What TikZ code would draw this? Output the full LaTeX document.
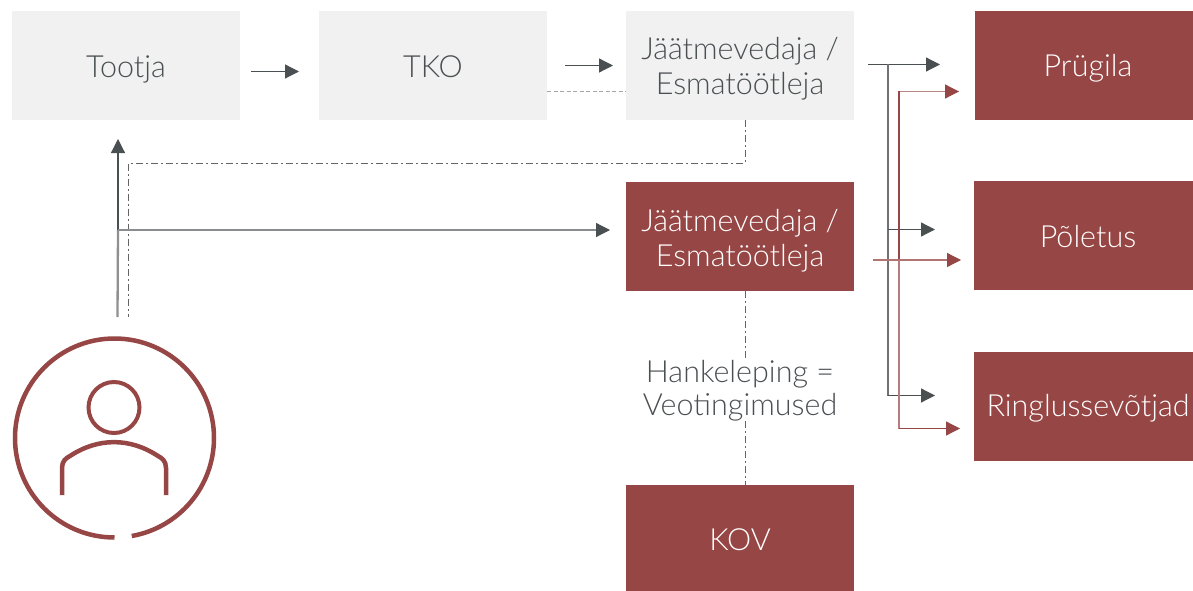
\documentclass[tikz,border=0pt]{standalone}
\usepackage{fontspec}
\setmainfont{Lato}[UprightFont=* Light]
\usetikzlibrary{arrows.meta,calc}
\definecolor{brick}{HTML}{964644}
\definecolor{pale}{HTML}{F1F1F1}
\definecolor{ink}{HTML}{4A4F52}
\definecolor{lgrey}{HTML}{8E9091}
\newcommand{\lowered}[2]{\raisebox{-#1}[\height][\depth]{#2}}
\newcommand{\twolines}[2]{\begin{tabular}{@{}c@{}}#1\\#2\end{tabular}}
\tikzset{
  x=1pt,y=-1pt,
  box/.style={minimum width=228pt,minimum height=109pt,inner sep=0pt,align=center,font=\fontsize{30.5}{35}\selectfont},
  greybox/.style={box,fill=pale,text=ink},
  redbox/.style={box,fill=brick,text=white},
  gtip/.style={-{Triangle[length=14pt,width=14pt,color=ink]}},
  rtip/.style={-{Triangle[length=14pt,width=14pt,color=brick]}},
  garrow/.style={draw=ink,line width=1.2pt,gtip},
  rarrow/.style={draw=brick,line width=1.2pt,rtip},
  gline/.style={draw=ink!80,line width=1.2pt},
  rline/.style={draw=brick,line width=1.2pt},
  dashdot/.style={draw=lgrey!70!black,line width=1pt,dash pattern=on 7pt off 3pt on 2pt off 3pt},
  reddashdot/.style={draw=brick!85!lgrey,line width=1pt,dash pattern=on 7pt off 3pt on 2pt off 3pt},
  person/.style={draw=brick,line width=4.5pt},
}
\begin{document}
\begin{tikzpicture}
\useasboundingbox (0,0) rectangle (1193,591);
% boxes
\node[greybox] (tootja) at (126,65.5) {\lowered{4pt}{Tootja}};
\node[greybox] (tko) at (433,65.5) {\lowered{1.5pt}{TKO}};
\node[greybox] (jv1) at (740,65.5) {\lowered{5pt}{\twolines{Jäätmevedaja /}{Esmatöötleja}}};
\node[redbox] (jv2) at (740,236.5) {\lowered{5pt}{\twolines{Jäätmevedaja /}{Esmatöötleja}}};
\node[redbox,minimum height=106pt] (kov) at (740,538) {\lowered{1.5pt}{KOV}};
\node[redbox,minimum width=218pt] (prugila) at (1084,65.5) {\hspace*{8pt}\lowered{3pt}{Prügila}};
\node[redbox,minimum width=219pt] (poletus) at (1083.5,235.5) {\hspace*{9pt}\lowered{1.5pt}{Põletus}};
\node[redbox,minimum width=219pt] (ring) at (1083.5,406.5) {\hspace*{9pt}\lowered{2pt}{Ringlussevõtjad}};
\node[font=\fontsize{30.5}{33.5}\selectfont,text=ink,align=center,inner sep=0pt] (hanke) at (740,390.5) {Hankeleping =\\Veotingimused};
% coordinates
\coordinate (tkoA) at (251,71.5);
\coordinate (tkoB) at (299,71.5);
\coordinate (jA) at (565,65.5);
\coordinate (jB) at (613,65.5);
\coordinate (start) at (117.5,317);
\coordinate (startD) at (128.5,317);
\coordinate (upTip) at (118,139);
\coordinate (branch) at (118,230);
\coordinate (jv2in) at (610,230);
\coordinate (o1) at (868,64.5);
\coordinate (t1) at (940,64.5);
\coordinate (v1) at (888,64.5);
\coordinate (v1a) at (888,229.5);
\coordinate (t1a) at (935,229.5);
\coordinate (v1b) at (888,395.5);
\coordinate (t1b) at (935,395.5);
\coordinate (t2) at (959,91.5);
\coordinate (v2) at (899,91.5);
\coordinate (v2m) at (899,260);
\coordinate (o2) at (873,260);
\coordinate (t2a) at (961,260);
\coordinate (v2b) at (899,428.5);
\coordinate (t2b) at (960,428.5);
% arrows between top boxes
\draw[garrow] (tkoA) -- (tkoB);
\draw[garrow] (jA) -- (jB);
% dashed link TKO - Jaatmevedaja
\draw[draw=lgrey!80,line width=1pt,dash pattern=on 4pt off 2.5pt] (tko.east |- 0,92) -- (jv1.west |- 0,92);
% dash-dot feedback
\draw[dashdot] (jv1.south -| 745,0) -- (745,163) -- (128.5,163) -- (startD);
% vertical from user
\draw[draw=lgrey,line width=2.3pt] (start) -- (branch);
\draw[garrow] (branch) -- (upTip);
\draw[garrow,draw=ink!65] (branch) -- (jv2in);
% grey tree
\draw[garrow] (o1) -- (t1);
\draw[gline] (v1) -- (v1b);
\draw[garrow] (v1a) -- (t1a);
\draw[garrow] (v1b) -- (t1b);
% red tree
\draw[rarrow,draw=brick!65] (v2) -- (t2);
\draw[rline] (v2) -- (v2m);
\draw[rline,draw=brick!70,line width=1.5pt] (v2m) -- (v2b);
\draw[rarrow,draw=brick!75] (o2) -- (t2a);
\draw[rarrow] (v2b) -- (t2b);
% contract line
\draw[reddashdot] (jv2.south -| 745,0) -- (hanke.north -| 745,0);
\draw[reddashdot] (hanke.south -| 745,0) -- (kov.north -| 745,0);
% person
\draw[person] (114.5,537.5) arc[start angle=270,end angle=-80,radius=99.5pt];
\draw[person,line width=4pt] (114,407.5) circle[radius=25.5pt];
\draw[person] (62,495) -- (62,468) .. controls (62,461) and (66,458) .. (70,456) .. controls (98,437.5) and (130,437.5) .. (158,456) .. controls (162,458) and (166,461) .. (166,468) -- (166,495);
\end{tikzpicture}
\end{document}
